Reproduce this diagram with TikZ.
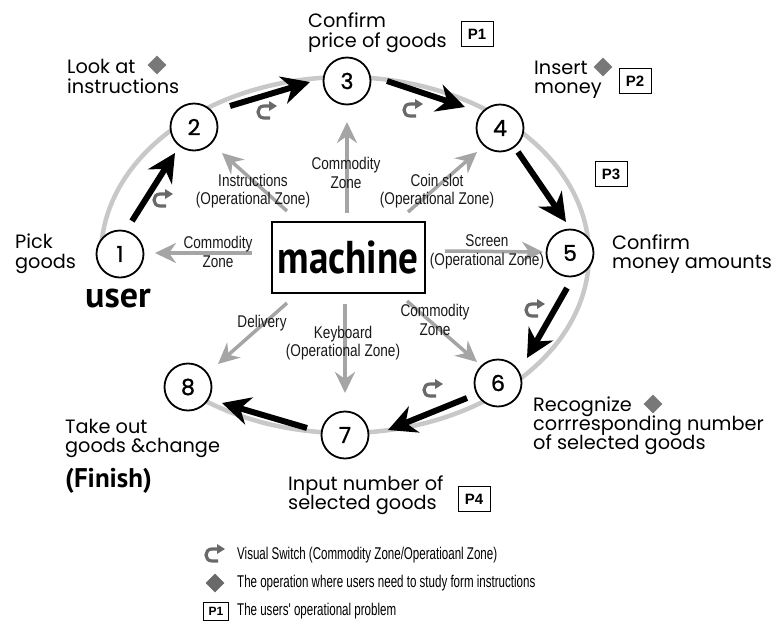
\documentclass[tikz,border=0pt]{standalone}
\usepackage{fontspec}
\setmainfont{Poppins}
\newfontfamily\lab{Poppins}
\newfontfamily\numf[FakeBold=1.2]{Poppins}
\newfontfamily\cond[FakeStretch=0.8]{Liberation Sans}
\newfontfamily\legf[FakeStretch=0.68]{Liberation Sans}
\newfontfamily\boldf{PT Sans}
\newfontfamily\machf[FakeStretch=0.85]{PT Sans}
\newfontfamily\pf{Liberation Sans}
\usetikzlibrary{arrows.meta,calc,shapes.geometric}
\definecolor{ringgray}{RGB}{200,200,200}
\definecolor{arrgray}{RGB}{165,165,165}
\definecolor{icongray}{RGB}{105,105,105}
\definecolor{diagray}{RGB}{120,120,120}
\begin{document}
\begin{tikzpicture}[x=1pt,y=-1pt,
 stepnode/.style={circle,draw,line width=1.8pt,fill=white,minimum size=47pt,inner sep=0pt,font=\numf\fontsize{22}{22}\selectfont},
 flow/.style={line width=6pt,-{Stealth[length=28pt,width=28pt,inset=9pt]}},
 zone/.style={arrgray,line width=3.5pt,-{Stealth[length=21pt,width=20pt,inset=7pt]}},
 zonelab/.style={font=\cond\fontsize{17}{18.5}\selectfont,align=center,inner sep=0pt,text=black!90},
 lbl/.style={anchor=base west,inner sep=0pt,font=\lab\fontsize{19.3}{19.3}\selectfont},
 dia/.style={diamond,fill=diagray,inner sep=0pt,minimum width=19pt,minimum height=19pt},
 pbox/.style={draw,line width=1pt,minimum width=32pt,minimum height=25pt,inner sep=0pt,font=\pf\bfseries\fontsize{15}{15}\selectfont},
 legtext/.style={anchor=west,inner sep=0pt,font=\legf\fontsize{17}{17}\selectfont},
 ring/.style={ringgray,line width=4.5pt},
 vswitch/.pic={\draw[icongray,line width=3.2pt] (3,6) -- (-3,6) .. controls (-11,6) and (-11,-6) .. (-3,-6) -- (3,-6);
   \fill[icongray] (2,-11) -- (10,-6) -- (2,-1) -- cycle;}
]
\useasboundingbox (0,0) rectangle (777,622);

% ring
\draw[ring] plot[domain=-131:179,samples=150] ({345+244*cos(\x)},{255-178*sin(\x)});

% step nodes
\node[stepnode] (n1) at (120,254) {1};
\node[stepnode] (n2) at (194,127) {2};
\node[stepnode] (n3) at (347,81) {3};
\node[stepnode] (n4) at (500,128) {4};
\node[stepnode] (n5) at (570,253) {5};
\node[stepnode] (n6) at (498,383) {6};
\node[stepnode] (n7) at (345,435) {7};
\node[stepnode] (n8) at (188,387) {8};

% machine
\node[draw,line width=2pt,minimum width=153pt,minimum height=71pt,inner sep=0pt,font=\machf\bfseries\fontsize{46}{46}\selectfont] (m) at (348,257) {machine};

% flow arrows
\draw[flow] ($(n1)+(12,-33)$) -- ($(n2)+(-19,26)$);
\draw[flow] ($(n2)+(36,-21)$) -- ($(n3)+(-37,1)$);
\draw[flow] ($(n3)+(40,0)$) -- ($(n4)+(-35,-21)$);
\draw[flow] ($(n4)+(18,24)$) -- ($(n5)+(-4,-31)$);
\draw[flow] ($(n5)+(-3,35)$) -- ($(n6)+(29,-25)$);
\draw[flow] ($(n6)+(-31,15)$) -- ($(n7)+(43,-5)$);
\draw[flow] ($(n7)+(-38,-7)$) -- ($(n8)+(34,16)$);

% zone arrows
\draw[zone] ($(m)+(-96,-4)$) -- ($(n1)+(35,-1)$);
\draw[zone] ($(m)+(-61,-46)$) -- ($(n2)+(28,26)$);
\draw[zone] ($(m)+(-1,-44)$) -- ($(n3)+(0,41)$);
\draw[zone] ($(m)+(60,-45)$) -- ($(n4)+(-23,24)$);
\draw[zone] ($(m)+(97,-6)$) -- ($(n5)+(-27,-1)$);
\draw[zone] ($(m)+(59,44)$) -- ($(n6)+(-21,-21)$);
\draw[zone] ($(m)+(-3,47)$) -- ($(n7)+(0,-42)$);
\draw[zone] ($(m)+(-61,46)$) -- ($(n8)+(30,-23)$);

% zone labels
\node[zonelab] (z1) at (218,252) {Commodity\\Zone};
\node[zonelab] (z2) at (253,191) {Instructions\\(Operational Zone)};
\node[zonelab] (z3) at (346,173) {Commodity\\Zone};
\node[zonelab] (z4) at (437,191) {Coin slot\\(Operational Zone)};
\node[zonelab] (z5) at (487,252) {Screen\\(Operational Zone)};
\node[zonelab] (z6) at (435,320) {Commodity\\Zone};
\node[zonelab] (z7) at (343,343) {Keyboard\\(Operational Zone)};
\node[zonelab] (z8) at (262,323) {Delivery};

% switch icons
\pic at (163,200) {vswitch};
\pic at (267,112) {vswitch};
\pic at (413,110) {vswitch};
\pic at (535,310) {vswitch};
\pic at (433,390) {vswitch};

% step labels
\node[lbl] (ll1) at (67,73) {Look at};
\node[lbl] (ll2) at (67,93) {instructions};
\node[dia] (d1) at (157,65) {};
\node[lbl] (cp1) at (308,27) {Confirm};
\node[lbl] (cp2) at (308,47) {price of goods};
\node[pbox] (p1) at (477,34) {P1};
\node[lbl] (im1) at (534,74) {Insert};
\node[lbl] (im2) at (534,93) {money};
\node[dia] (d2) at (603,67) {};
\node[pbox] (p2) at (635,81) {P2};
\node[pbox] (p3) at (611,174) {P3};
\node[lbl] (pg1) at (15,248) {Pick};
\node[lbl] (pg2) at (15,268) {goods};
\node[anchor=base west,inner sep=0pt,font=\boldf\bfseries\fontsize{36}{36}\selectfont] (usr) at (85,307) {user};
\node[lbl] (cm1) at (612,249) {Confirm};
\node[lbl] (cm2) at (612,268) {money amounts};
\node[lbl] (rc1) at (533,411) {Recognize};
\node[dia] (d3) at (653,404) {};
\node[lbl] (rc2) at (533,430) {corrresponding number};
\node[lbl] (rc3) at (533,449) {of selected goods};
\node[lbl] (to1) at (65,433) {Take out};
\node[lbl] (to2) at (65,452) {goods \&change};
\node[anchor=base west,inner sep=0pt,font=\boldf\bfseries\fontsize{27}{27}\selectfont] (fin) at (65,487) {(Finish)};
\node[lbl] (in1) at (288,490) {Input number of};
\node[lbl] (in2) at (288,509) {selected goods};
\node[pbox] (p4) at (474,499) {P4};

% legend
\pic at (215,555) {vswitch};
\node[legtext] (lg1) at (237,555) {Visual Switch (Commodity Zone/Operatioanl Zone)};
\node[dia,fill=icongray] (lgd) at (215,583) {};
\node[legtext] (lg2) at (237,583) {The operation where users need to study form instructions};
\node[pbox,minimum width=25pt,minimum height=18pt,font=\pf\bfseries\fontsize{12}{12}\selectfont] (lgp) at (216,611) {P1};
\node[legtext] (lg3) at (237,611) {The users' operational problem};
\end{tikzpicture}
\end{document}
